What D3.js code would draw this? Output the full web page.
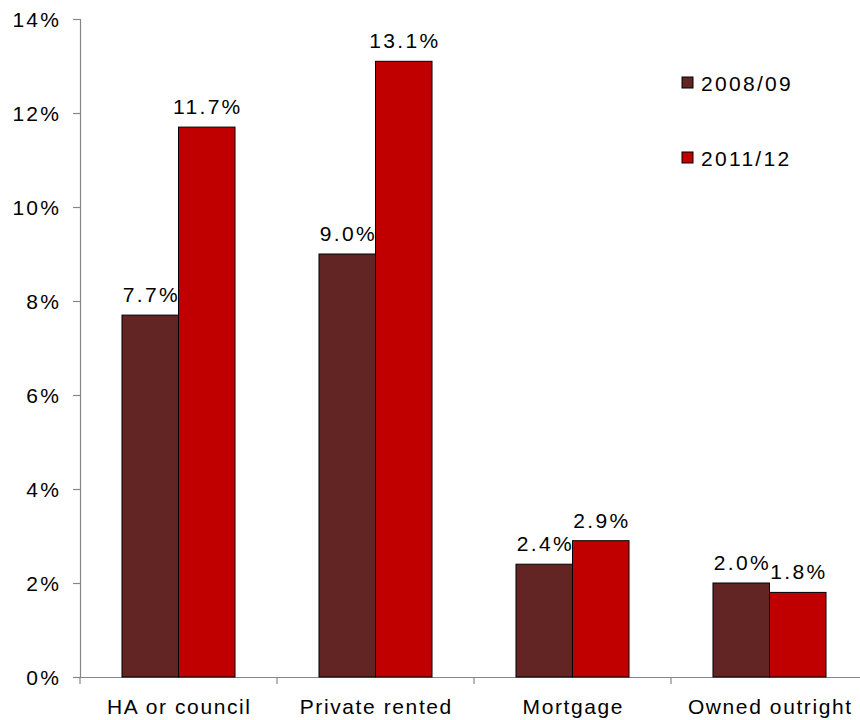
<!DOCTYPE html>
<html>
<head>
<meta charset="utf-8">
<script src="https://cdn.jsdelivr.net/npm/d3@7"></script>
<style>
  html, body { margin: 0; padding: 0; background: #fff; }
  svg text { font-family: "Liberation Sans", Arial, sans-serif; font-size: 21px; letter-spacing: 2.3px; fill: #000; }
  svg text.cat { letter-spacing: 1.6px; }
</style>
</head>
<body>
<svg id="chart" width="860" height="720"></svg>
<script>
// Tenure categories and the two survey periods
const categories = ["HA or council", "Private rented", "Mortgage", "Owned outright"];
const seriesNames = ["2008/09", "2011/12"];
const values2008 = [7.7, 9.0, 2.4, 2.0];
const values2011 = [11.7, 13.1, 2.9, 1.8];
const yTicks = [0, 2, 4, 6, 8, 10, 12, 14];
const seriesColors = ["#632523", "#C00000"];

const seriesValues = [values2008, values2011];
const rows = categories.map((c, i) => ({
  category: c,
  bars: seriesNames.map((s, j) => ({ series: s, value: seriesValues[j][i] }))
}));

const svg = d3.select("#chart");
const plotLeft = 80, plotRight = 868, plotTop = 19, plotBottom = 677;

const x = d3.scaleBand().domain(categories).range([plotLeft, plotRight]).paddingInner(0).paddingOuter(0);
const xSub = d3.scaleBand().domain(seriesNames).range([0, x.bandwidth()]).paddingInner(0).paddingOuter(0.743);
const y = d3.scaleLinear().domain([0, 14]).range([plotBottom, plotTop]);
const color = d3.scaleOrdinal().domain(seriesNames).range(seriesColors);

const axisColor = "#868686";

// Y axis
const yAxis = svg.append("g")
  .attr("transform", `translate(${plotLeft},0)`)
  .call(d3.axisLeft(y).tickValues(yTicks).tickSize(7).tickPadding(14).tickFormat(d => d + "%"));
yAxis.attr("font-size", null).attr("font-family", null);
yAxis.select(".domain").attr("stroke", axisColor).attr("stroke-width", 1.2);
yAxis.selectAll(".tick line").attr("stroke", axisColor).attr("stroke-width", 1.2);
yAxis.selectAll(".tick text").attr("dx", "2.3px").attr("dy", "0.36em");

// X axis: labels centred on each category, ticks at the category boundaries
const xAxis = svg.append("g")
  .attr("transform", `translate(0,${plotBottom})`)
  .call(d3.axisBottom(x).tickSize(0).tickPadding(22));
xAxis.attr("font-size", null).attr("font-family", null);
xAxis.select(".domain").attr("stroke", axisColor).attr("stroke-width", 1.2);
xAxis.selectAll(".tick text").attr("class", "cat").attr("dx", "0.8px");

const boundaries = categories.map(c => x(c)).concat([x(categories[categories.length - 1]) + x.bandwidth()]);
xAxis.selectAll("line.boundary")
  .data(boundaries)
  .join("line")
  .attr("class", "boundary")
  .attr("x1", d => d).attr("x2", d => d)
  .attr("y1", 0).attr("y2", 7)
  .attr("stroke", axisColor).attr("stroke-width", 1.2);

// Bars
const groups = svg.append("g").selectAll("g")
  .data(rows)
  .join("g")
  .attr("transform", d => `translate(${x(d.category)},0)`);

groups.selectAll("rect")
  .data(d => d.bars)
  .join("rect")
  .attr("x", d => xSub(d.series))
  .attr("y", d => y(d.value))
  .attr("width", xSub.bandwidth())
  .attr("height", d => y(0) - y(d.value))
  .attr("fill", d => color(d.series))
  .attr("stroke", "#000")
  .attr("stroke-width", 1);

// Value labels
groups.selectAll("text.value")
  .data(d => d.bars)
  .join("text")
  .attr("class", "value")
  .attr("x", d => xSub(d.series) + xSub.bandwidth() / 2 + 1.1)
  .attr("y", d => y(d.value) - 13)
  .attr("text-anchor", "middle")
  .text(d => d.value.toFixed(1) + "%");

// Legend
const legend = svg.append("g").selectAll("g")
  .data(seriesNames)
  .join("g")
  .attr("transform", (d, i) => `translate(682,${77 + i * 75})`);
legend.append("rect")
  .attr("width", 11).attr("height", 11)
  .attr("fill", d => color(d))
  .attr("stroke", "#000").attr("stroke-width", 1);
legend.append("text")
  .attr("x", 19).attr("y", 13.5)
  .text(d => d);
</script>
</body>
</html>
